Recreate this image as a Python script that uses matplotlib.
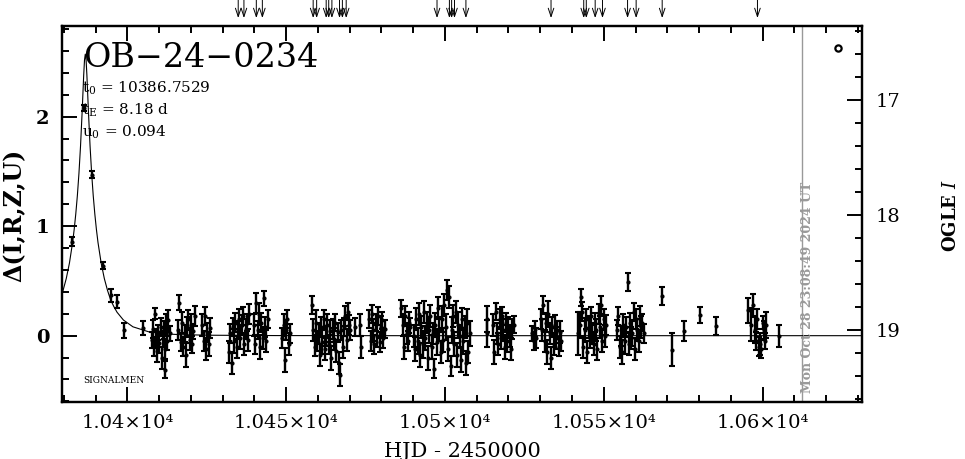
import numpy as np
import matplotlib
matplotlib.use('Agg')
import matplotlib.pyplot as plt
from matplotlib.ticker import MultipleLocator

plt.rcParams['font.family'] = 'DejaVu Serif'
plt.rcParams['mathtext.fontset'] = 'dejavuserif'

# === DATA ===
# peak / early points
t_peak = [10382.7, 10386.4, 10389.0, 10392.2, 10395.0, 10396.7, 10398.9, 10405.0]
d_peak = [0.86, 2.08, 1.47, 0.64, 0.37, 0.31, 0.05, 0.07]
e_peak = [0.04, 0.03, 0.03, 0.03, 0.06, 0.06, 0.07, 0.06]

# baseline seasons
t_base = [
    10407.7, 10408.0, 10408.4, 10408.7, 10409.1, 10409.4, 10409.8, 10410.1, 10410.5, 10410.8,
    10411.2, 10411.5, 10411.9, 10412.2, 10412.6, 10412.9, 10413.3, 10411.7,
    10416.0, 10416.4, 10416.8, 10417.2, 10417.6, 10418.0, 10418.4, 10418.8, 10419.2, 10419.6,
    10420.0, 10420.4, 10420.8, 10421.2,
    10423.6, 10424.0, 10424.4, 10424.8, 10425.2, 10425.6, 10426.0,
    10432.0, 10432.4, 10432.8, 10433.2, 10433.6, 10434.0, 10434.4, 10434.8, 10435.2, 10435.6,
    10436.0, 10436.4, 10436.8, 10437.2, 10437.6, 10438.0, 10438.4,
    10439.8, 10440.2, 10440.6, 10441.0, 10441.4, 10441.8, 10442.2, 10442.6, 10443.0, 10443.4,
    10443.8, 10444.2,
    10448.8, 10449.2, 10449.6, 10450.0, 10450.4, 10450.8, 10451.2,
    10458.2, 10458.6, 10459.0, 10459.4, 10459.8, 10460.2, 10460.6, 10461.0, 10461.4, 10461.8,
    10462.2, 10462.6, 10463.0, 10463.4, 10463.8, 10464.2, 10464.6, 10465.0, 10465.4, 10465.8,
    10466.2, 10466.6, 10467.0, 10467.4, 10467.8, 10468.2, 10468.6, 10469.0, 10469.4, 10469.8,
    10470.2,
    10471.6, 10473.3, 10473.6,
    10476.2, 10476.6, 10477.0, 10477.4, 10477.8, 10478.2, 10478.6, 10479.0, 10479.4, 10479.8,
    10480.2, 10480.6, 10481.0,
    10486.3, 10486.7, 10487.1, 10487.5, 10487.9, 10488.3, 10488.7, 10489.1,
    10490.2, 10490.6, 10491.0, 10491.4, 10491.8, 10492.2, 10492.6, 10493.0, 10493.4, 10493.8,
    10494.2, 10494.6, 10495.0, 10495.4, 10495.8, 10496.2, 10496.6, 10497.0, 10497.4, 10497.8,
    10498.2, 10498.6, 10499.0, 10499.4, 10499.8, 10500.2, 10500.6, 10501.0, 10501.4, 10501.8,
    10502.2, 10502.6, 10503.0, 10503.4, 10503.8, 10504.2, 10504.6, 10505.0, 10505.4, 10505.8,
    10506.2, 10506.6, 10507.0, 10507.4, 10507.8,
    10513.1, 10513.3,
    10515.2, 10515.6, 10516.0, 10516.4, 10516.8, 10517.2, 10517.6, 10518.0, 10518.4, 10518.8,
    10519.2, 10519.6, 10520.0, 10520.4, 10520.8, 10521.2, 10521.6,
    10527.5, 10527.9, 10528.3, 10528.7,
    10530.2, 10530.6, 10531.0, 10531.4, 10531.8, 10532.2, 10532.6, 10533.0, 10533.4, 10533.8,
    10534.2, 10534.6, 10535.0, 10535.4, 10535.8, 10536.2, 10536.6,
    10542.0, 10542.4, 10542.8, 10543.2, 10543.6, 10544.0, 10544.4, 10544.8, 10545.2, 10545.6,
    10546.0, 10546.4, 10546.8, 10547.2, 10547.6, 10548.0, 10548.4, 10548.8, 10549.2, 10549.6,
    10550.0, 10550.4, 10550.8,
    10554.2, 10554.6, 10555.0, 10555.4, 10555.8, 10556.2, 10556.6, 10557.0, 10557.8, 10558.2,
    10558.6, 10559.0, 10559.4, 10559.8, 10560.2, 10560.6, 10561.0, 10561.4, 10561.8, 10562.2,
    10562.6, 10557.5,
    10568.5, 10571.4, 10575.2, 10580.3, 10585.5,
    10595.4, 10596.3, 10597.0, 10597.6, 10598.0, 10598.4, 10598.8, 10599.2, 10599.6, 10600.0,
    10600.4, 10600.8, 10601.2,
    10605.2,
]
d_base = [
    -0.04, 0.06, -0.10, 0.20, -0.02, -0.14, 0.03, -0.07, 0.08, -0.20,
    -0.03, 0.05, -0.12, 0.10, -0.05, 0.14, 0.02, -0.31,
    0.05, 0.30, -0.06, 0.12, -0.10, 0.02, -0.18, 0.08, 0.15, -0.04,
    0.10, -0.08, 0.04, 0.18,
    0.10, -0.05, 0.18, -0.12, 0.03, -0.08, 0.07,
    -0.15, 0.02, -0.25, 0.08, -0.05, 0.12, -0.10, 0.05, 0.15, -0.02,
    0.10, 0.18, -0.08, 0.06, 0.12, -0.04, 0.20,
    0.10, -0.08, 0.30, 0.05, 0.20, -0.10, 0.12, -0.02, 0.34, 0.08,
    -0.05, 0.15,
    -0.02, 0.10, -0.22, 0.05, 0.15, -0.08, 0.02,
    0.28, 0.05, -0.10, 0.12, -0.05, 0.02, -0.18, 0.08, -0.06, 0.15,
    -0.12, 0.00, 0.10, -0.08, 0.04, -0.20, 0.06, -0.03, 0.12, -0.14,
    0.03, -0.25, -0.36, 0.05, -0.10, 0.08, 0.18, -0.04, 0.22, 0.10,
    0.05,
    0.08, 0.10, -0.10,
    0.15, -0.05, 0.20, 0.05, -0.08, 0.12, 0.00, 0.18, -0.06, 0.08,
    0.14, -0.02, 0.06,
    0.25, 0.10, -0.10, 0.18, 0.02, -0.05, 0.12, 0.08,
    0.00, -0.12, 0.15, -0.05, 0.20, -0.18, 0.08, -0.08, 0.22, -0.02,
    0.12, -0.20, 0.05, 0.18, -0.10, 0.02, -0.30, 0.10, -0.06, 0.25,
    0.06, -0.15, 0.15, -0.04, 0.28, 0.08, 0.42, -0.12, 0.35, -0.28,
    0.05, 0.18, -0.08, 0.22, -0.18, 0.10, 0.00, -0.22, 0.15, -0.05,
    0.08, -0.25, 0.12, -0.15, 0.02,
    0.15, 0.02,
    0.10, -0.15, 0.22, 0.02, -0.08, 0.15, -0.02, 0.18, 0.05, -0.10,
    0.12, -0.05, 0.08, 0.00, -0.12, 0.06, 0.10,
    0.02, -0.05, 0.06, -0.02,
    0.15, 0.05, 0.28, -0.05, 0.12, -0.15, 0.20, 0.02, -0.20, 0.08,
    -0.08, 0.10, -0.02, 0.05, -0.10, 0.03, -0.05,
    0.02, 0.10, 0.35, 0.22, -0.10, 0.05, 0.15, -0.15, 0.08, -0.02,
    0.18, 0.02, -0.08, 0.12, 0.05, -0.12, 0.20, 0.08, 0.28, -0.05,
    0.15, 0.00, 0.10,
    0.05, 0.18, -0.10, 0.00, -0.15, 0.10, -0.05, 0.08, -0.08, 0.12,
    -0.02, 0.02, 0.22, -0.12, 0.15, 0.05, -0.05, 0.18, 0.08, 0.12,
    0.02, 0.49,
    0.36, -0.13, 0.04, 0.19, 0.09,
    0.23, 0.10, 0.28, 0.05, -0.05, 0.15, -0.10, -0.08, -0.12, 0.12,
    0.05, -0.05, 0.10,
    0.00,
]
e_base = [
    0.07, 0.08, 0.09, 0.05, 0.08, 0.10, 0.07, 0.09, 0.08, 0.10,
    0.07, 0.08, 0.09, 0.10, 0.08, 0.09, 0.07, 0.08,
    0.09, 0.07, 0.08, 0.10, 0.09, 0.08, 0.11, 0.09, 0.08, 0.09,
    0.10, 0.08, 0.07, 0.09,
    0.10, 0.09, 0.08, 0.10, 0.09, 0.11, 0.09,
    0.10, 0.09, 0.10, 0.08, 0.11, 0.09, 0.10, 0.08, 0.09, 0.10,
    0.09, 0.08, 0.10, 0.09, 0.08, 0.10, 0.09,
    0.10, 0.09, 0.09, 0.08, 0.10, 0.11, 0.09, 0.10, 0.07, 0.09,
    0.10, 0.08,
    0.09, 0.10, 0.11, 0.09, 0.08, 0.10, 0.09,
    0.08, 0.10, 0.09, 0.11, 0.09, 0.10, 0.10, 0.09, 0.11, 0.08,
    0.10, 0.09, 0.10, 0.09, 0.10, 0.11, 0.09, 0.10, 0.08, 0.10,
    0.09, 0.10, 0.10, 0.09, 0.10, 0.08, 0.09, 0.10, 0.08, 0.09,
    0.09,
    0.08, 0.10, 0.10,
    0.08, 0.09, 0.08, 0.10, 0.09, 0.08, 0.10, 0.08, 0.09, 0.10,
    0.08, 0.09, 0.08,
    0.08, 0.10, 0.11, 0.09, 0.10, 0.09, 0.10, 0.08,
    0.10, 0.11, 0.10, 0.12, 0.10, 0.11, 0.10, 0.12, 0.10, 0.11,
    0.10, 0.11, 0.12, 0.10, 0.11, 0.10, 0.09, 0.11, 0.12, 0.10,
    0.11, 0.10, 0.12, 0.11, 0.10, 0.12, 0.09, 0.11, 0.10, 0.09,
    0.12, 0.10, 0.11, 0.10, 0.11, 0.12, 0.10, 0.11, 0.10, 0.12,
    0.10, 0.11, 0.12, 0.10, 0.11,
    0.12, 0.12,
    0.10, 0.11, 0.08, 0.10, 0.10, 0.09, 0.10, 0.08, 0.10, 0.11,
    0.09, 0.10, 0.09, 0.10, 0.10, 0.09, 0.08,
    0.07, 0.08, 0.07, 0.09,
    0.09, 0.10, 0.08, 0.10, 0.09, 0.11, 0.12, 0.10, 0.10, 0.09,
    0.10, 0.09, 0.10, 0.08, 0.09, 0.10, 0.09,
    0.20, 0.12, 0.08, 0.09, 0.10, 0.11, 0.09, 0.10, 0.10, 0.09,
    0.08, 0.10, 0.10, 0.09, 0.10, 0.10, 0.09, 0.10, 0.08, 0.10,
    0.09, 0.10, 0.09,
    0.09, 0.08, 0.10, 0.09, 0.11, 0.10, 0.12, 0.09, 0.10, 0.09,
    0.10, 0.11, 0.08, 0.10, 0.09, 0.10, 0.10, 0.09, 0.10, 0.08,
    0.09, 0.08,
    0.08, 0.15, 0.09, 0.07, 0.08,
    0.11, 0.15, 0.10, 0.12, 0.08, 0.09, 0.09, 0.10, 0.08, 0.06,
    0.08, 0.07, 0.12,
    0.10,
]

# model curve (t0 = 10386.7529, tE = 8.18 d, u0 = 0.094)
curve_t = [10379.3, 10379.75, 10380.75, 10381.75, 10382.75, 10383.25, 10383.75, 10384.25,
           10384.75, 10385.25, 10385.75, 10386.0, 10386.25, 10386.5, 10386.75, 10387.0,
           10387.25, 10387.5, 10387.75, 10388.25, 10388.75, 10389.25, 10389.75, 10390.25,
           10390.75, 10391.75, 10392.75, 10393.75, 10394.75, 10395.75, 10396.75, 10398.75,
           10401.75, 10406.75, 10411.75, 10416.75, 10426.75, 10446.75, 10486.75, 10632.0]
curve_d = [0.381, 0.413, 0.521, 0.662, 0.851, 0.970, 1.111, 1.278,
           1.482, 1.732, 2.039, 2.211, 2.381, 2.517, 2.571, 2.517,
           2.381, 2.211, 2.039, 1.732, 1.482, 1.278, 1.111, 0.970,
           0.851, 0.662, 0.521, 0.413, 0.325, 0.265, 0.214, 0.143,
           0.081, 0.035, 0.017, 0.009, 0.004, 0.001, 0.0, 0.0]

# observation times marked at the top
arrow_t = [10434.9, 10436.7, 10440.6, 10442.5, 10458.5, 10459.6, 10462.6, 10463.4, 10464.4,
           10466.8, 10467.7, 10468.9, 10497.5, 10501.4, 10502.1, 10503.0, 10506.6, 10533.4,
           10543.7, 10544.5, 10547.3, 10549.6, 10557.5, 10560.2, 10568.4, 10598.4]

xtick_vals = [10400, 10450, 10500, 10550, 10600]
xtick_labels = ['1.04×10⁴', '1.045×10⁴', '1.05×10⁴', '1.055×10⁴', '1.06×10⁴']
now_t = 10612.4
ogle_t, ogle_d = 10623.7, 2.63

# === FIGURE ===
fig = plt.figure(figsize=(9.65, 4.59), dpi=100)
ax = fig.add_axes([0.0642, 0.1248, 0.8290, 0.8186])

ax.plot(curve_t, curve_d, color='black', lw=0.8, zorder=2)
ax.errorbar(t_peak + t_base, d_peak + d_base, yerr=e_peak + e_base, fmt='o', ms=2.0,
            color='black', ecolor='black', elinewidth=1.7, capsize=2.0, capthick=1.5, zorder=3)
ax.plot([ogle_t], [ogle_d], 'o', ms=4.5, mfc='white', mec='black', mew=1.6, zorder=4)

ax.axvline(now_t, color='#999999', lw=1.0, zorder=1)
ax.text(now_t + 1.9, -0.52, 'Mon Oct 28 23:08:49 2024 UT', rotation=90, color='#999999',
        fontsize=9, fontweight='bold', ha='center', va='bottom')

ax.set_xlim(10379.4, 10631.3)
ax.set_ylim(-0.603, 2.828)

ax.set_xticks(xtick_vals, labels=xtick_labels)
ax.xaxis.set_minor_locator(MultipleLocator(10))
ax.set_yticks([0, 1, 2])
ax.yaxis.set_minor_locator(MultipleLocator(0.2))
ax.tick_params(axis='both', which='both', direction='in', width=1.4, top=True, right=False)
ax.tick_params(axis='both', which='major', length=11)
ax.tick_params(axis='both', which='minor', length=5)
ax.tick_params(axis='x', which='major', labelsize=14, pad=9)
ax.tick_params(axis='y', which='major', labelsize=14, pad=9)
for lab in ax.get_yticklabels():
    lab.set_fontweight('bold')
for s in ax.spines.values():
    s.set_linewidth(1.6)

ax2 = ax.twinx()
ax2.set_ylim(19.623, 16.357)
ax2.set_yticks([17, 18, 19])
ax2.yaxis.set_minor_locator(MultipleLocator(0.2))
ax2.tick_params(axis='y', which='both', direction='in', width=1.4)
ax2.tick_params(axis='y', which='major', length=11, labelsize=14, pad=10)
ax2.tick_params(axis='y', which='minor', length=5)
for s in ax2.spines.values():
    s.set_linewidth(1.6)

# arrows at top
for t in arrow_t:
    ax.annotate('', xy=(t, 1.021), xycoords=('data', 'axes fraction'),
                xytext=(t, 1.069), textcoords=('data', 'axes fraction'),
                arrowprops=dict(arrowstyle='->,head_length=0.6,head_width=0.2',
                                color='black', lw=0.7, shrinkA=0, shrinkB=0),
                annotation_clip=False)

# texts
ax.text(0.026, 0.891, 'OB\u221224\u22120234', transform=ax.transAxes, fontsize=24,
        ha='left', va='baseline')
ax.text(0.025, 0.8225, r'$\mathrm{t_0}$ = 10386.7529', transform=ax.transAxes, fontsize=11,
        ha='left', va='baseline')
ax.text(0.025, 0.763, r'$\mathrm{t_E}$ = 8.18 d', transform=ax.transAxes, fontsize=11,
        ha='left', va='baseline')
ax.text(0.025, 0.705, r'$\mathrm{u_0}$ = 0.094', transform=ax.transAxes, fontsize=11,
        ha='left', va='baseline')
ax.text(10386.0, -0.405, 'SIGNALMEN', fontsize=6.5, ha='left', va='center')

fig.text(14 / 965, 0.5316, 'Δ(I,R,Z,U)', rotation=90, fontsize=17, fontweight='bold',
         ha='center', va='center')
fig.text(951 / 965, 0.5316, r'OGLE $\mathit{I}$', rotation=90, fontsize=13, fontweight='bold',
         ha='center', va='center')
fig.text(462 / 965, 0.0174, 'HJD - 2450000', fontsize=15, ha='center', va='center')

fig.savefig('out.png', dpi=100)
